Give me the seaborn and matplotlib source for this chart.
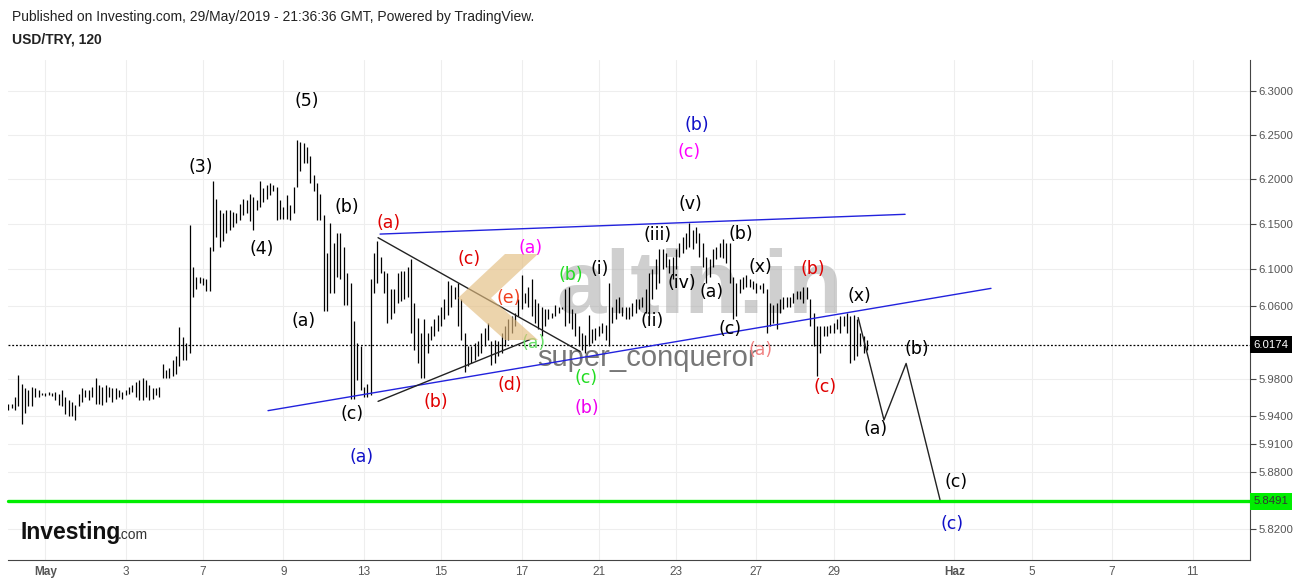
import numpy as np
import pandas as pd
import matplotlib
matplotlib.use("Agg")
import matplotlib.pyplot as plt
import matplotlib.transforms as mtransforms
from matplotlib.patches import Polygon
from matplotlib.ticker import FixedLocator, FixedFormatter, NullLocator, NullFormatter
import seaborn as sns

# ---------------- data (USD/TRY, 120 min bars) ----------------
highs = [
    5.953, 5.953, 5.961, 5.984, 5.975, 5.970, 5.968, 5.972, 5.970, 5.968,
    5.965, 5.965, 5.966, 5.965, 5.966, 5.964, 5.968, 5.961, 5.957, 5.955,
    5.952, 5.964, 5.970, 5.968, 5.968, 5.972, 5.981, 5.974, 5.972, 5.974,
    5.972, 5.970, 5.970, 5.968, 5.966, 5.968, 5.972, 5.974, 5.977, 5.979,
    5.981, 5.979, 5.974, 5.970, 5.970, 5.972, 5.996, 5.990, 5.992, 6.001,
    6.005, 6.037, 6.026, 6.019, 6.149, 6.103, 6.092, 6.092, 6.090, 6.089,
    6.125, 6.198, 6.178, 6.166, 6.162, 6.166, 6.166, 6.164, 6.162, 6.173,
    6.178, 6.177, 6.184, 6.180, 6.177, 6.198, 6.190, 6.194, 6.196, 6.194,
    6.192, 6.177, 6.169, 6.182, 6.171, 6.192, 6.244, 6.242, 6.241, 6.237,
    6.226, 6.205, 6.196, 6.184, 6.160, 6.118, 6.151, 6.129, 6.140, 6.140,
    6.125, 6.096, 6.085, 6.043, 6.019, 6.016, 5.972, 5.975, 6.089, 6.118,
    6.131, 6.114, 6.098, 6.096, 6.078, 6.078, 6.096, 6.098, 6.098, 6.103,
    6.111, 6.063, 6.047, 6.030, 6.045, 6.030, 6.038, 6.045, 6.050, 6.059,
    6.067, 6.087, 6.083, 6.080, 6.085, 6.067, 6.030, 6.016, 6.016, 6.019,
    6.021, 6.030, 6.036, 6.041, 6.021, 6.023, 6.021, 6.030, 6.038, 6.045,
    6.049, 6.052, 6.067, 6.094, 6.074, 6.081, 6.089, 6.067, 6.063, 6.059,
    6.056, 6.056, 6.052, 6.061, 6.059, 6.059, 6.078, 6.081, 6.056, 6.052,
    6.038, 6.030, 6.028, 6.050, 6.034, 6.036, 6.038, 6.041, 6.039, 6.085,
    6.059, 6.067, 6.070, 6.059, 6.059, 6.059, 6.063, 6.067, 6.067, 6.070,
    6.078, 6.096, 6.100, 6.111, 6.122, 6.122, 6.118, 6.111, 6.114, 6.122,
    6.129, 6.136, 6.140, 6.151, 6.144, 6.147, 6.140, 6.129, 6.114, 6.111,
    6.122, 6.125, 6.129, 6.133, 6.129, 6.129, 6.092, 6.085, 6.089, 6.092,
    6.094, 6.089, 6.087, 6.085, 6.083, 6.085, 6.078, 6.063, 6.061, 6.063,
    6.067, 6.070, 6.070, 6.070, 6.074, 6.076, 6.076, 6.081, 6.080, 6.067,
    6.052, 6.038, 6.038, 6.038, 6.038, 6.039, 6.041, 6.045, 6.049, 6.049,
    6.052, 6.049, 6.050, 6.045, 6.030, 6.027, 6.023,
]
lows = [
    5.947, 5.949, 5.947, 5.951, 5.932, 5.943, 5.951, 5.951, 5.961, 5.961,
    5.963, 5.962, 5.963, 5.962, 5.957, 5.952, 5.951, 5.942, 5.940, 5.940,
    5.936, 5.951, 5.955, 5.961, 5.957, 5.961, 5.953, 5.953, 5.952, 5.955,
    5.961, 5.955, 5.959, 5.961, 5.959, 5.963, 5.964, 5.966, 5.961, 5.957,
    5.957, 5.961, 5.957, 5.959, 5.963, 5.961, 5.981, 5.981, 5.981, 5.983,
    5.986, 5.994, 6.001, 6.001, 6.008, 6.070, 6.078, 6.085, 6.083, 6.076,
    6.076, 6.120, 6.136, 6.125, 6.131, 6.140, 6.144, 6.147, 6.151, 6.155,
    6.160, 6.162, 6.153, 6.144, 6.166, 6.169, 6.175, 6.178, 6.182, 6.187,
    6.155, 6.156, 6.156, 6.156, 6.155, 6.162, 6.192, 6.209, 6.219, 6.219,
    6.196, 6.187, 6.155, 6.155, 6.054, 6.054, 6.074, 6.074, 6.092, 6.089,
    6.061, 6.061, 5.959, 5.959, 5.979, 5.968, 5.961, 5.961, 5.963, 6.074,
    6.085, 6.096, 6.074, 6.041, 6.045, 6.052, 6.063, 6.065, 6.067, 6.070,
    6.030, 6.012, 5.997, 5.981, 5.981, 6.008, 6.023, 6.027, 6.032, 6.038,
    6.045, 6.050, 6.059, 6.067, 6.038, 6.023, 5.988, 5.994, 5.997, 6.001,
    6.005, 6.008, 6.016, 6.023, 5.995, 5.997, 6.005, 6.008, 6.016, 6.023,
    6.030, 6.038, 6.049, 6.056, 6.063, 6.059, 6.049, 6.041, 6.034, 6.027,
    6.038, 6.045, 6.047, 6.049, 6.052, 6.056, 6.038, 6.041, 6.034, 6.027,
    6.016, 6.012, 6.008, 6.016, 6.019, 6.023, 6.027, 6.030, 6.023, 6.016,
    6.041, 6.045, 6.052, 6.049, 6.045, 6.045, 6.049, 6.052, 6.056, 6.059,
    6.052, 6.045, 6.067, 6.078, 6.085, 6.100, 6.103, 6.096, 6.089, 6.100,
    6.114, 6.118, 6.122, 6.125, 6.123, 6.129, 6.114, 6.103, 6.085, 6.092,
    6.103, 6.111, 6.114, 6.113, 6.107, 6.085, 6.045, 6.049, 6.074, 6.078,
    6.081, 6.081, 6.078, 6.074, 6.078, 6.074, 6.030, 6.038, 6.041, 6.034,
    6.052, 6.056, 6.059, 6.059, 6.063, 6.067, 6.067, 6.063, 6.067, 6.038,
    6.016, 5.983, 6.008, 6.027, 6.027, 6.030, 6.030, 6.034, 6.030, 6.038,
    6.030, 5.997, 6.001, 6.005, 6.016, 6.008, 6.012,
]
last_price = 6.0174
support_level = 5.8491

ytick_values = [5.82, 5.88, 5.91, 5.94, 5.98, 6.06, 6.10, 6.15, 6.20, 6.25, 6.30]
# bar index at which each labelled day begins
xtick_bars = [11, 35, 58, 82, 106, 129, 153, 176, 199, 223, 246, 282, 305, 329, 353]
xtick_labels = ["May", "3", "7", "9", "13", "15", "17", "21", "23", "27", "29",
                "Haz", "5", "7", "11"]

# Elliott wave labels: (text, bar index, price, colour)
wave_text = ["(3)", "(4)", "(5)", "(b)", "(a)", "(c)", "(a)",
             "(a)", "(b)", "(c)", "(d)", "(e)",
             "(a)", "(a)", "(b)", "(i)", "(c)", "(b)",
             "(ii)", "(iii)", "(iv)", "(v)", "(c)", "(b)",
             "(a)", "(b)", "(c)", "(x)", "(a)",
             "(b)", "(c)", "(x)", "(b)", "(a)", "(c)", "(c)"]
wave_bar = [57.4, 75.6, 89.0, 100.9, 88.1, 102.4, 105.4,
            113.2, 127.5, 137.3, 149.5, 149.2,
            155.8, 156.7, 167.7, 176.4, 172.2, 172.5,
            191.9, 193.4, 200.8, 203.2, 202.9, 205.3,
            209.5, 218.4, 215.1, 224.3, 224.3,
            239.9, 243.4, 253.6, 270.8, 258.6, 282.5, 281.3]
wave_price = [6.214, 6.122, 6.289, 6.169, 6.043, 5.942, 5.896,
              6.151, 5.955, 6.111, 5.974, 6.068,
              6.124, 6.019, 6.094, 6.100, 5.981, 5.949,
              6.043, 6.138, 6.085, 6.172, 6.231, 6.261,
              6.075, 6.139, 6.035, 6.103, 6.012,
              6.100, 5.971, 6.071, 6.013, 5.926, 5.870, 5.825]
wave_color = ["black", "black", "black", "black", "black", "black", "#1010c8",
              "#e00000", "#e00000", "#e00000", "#e00000", "#f04020",
              "#ff00ff", "#66e066", "#22dd22", "black", "#22dd22", "#ee00ee",
              "black", "black", "black", "black", "#ff00ff", "#1010c8",
              "black", "black", "black", "black", "#f08080",
              "#e00000", "#e00000", "black", "black", "black", "black", "#1010c8"]

# trend lines (bar index, price)
upper_blue_x = [110.8, 267.3]
upper_blue_y = [6.139, 6.161]
lower_blue_x = [77.4, 292.9]
lower_blue_y = [5.946, 6.079]
tri_upper_x = [110.2, 170.4]
tri_upper_y = [6.135, 6.010]
tri_lower_x = [110.2, 155.5]
tri_lower_y = [5.956, 6.023]
forecast_x = [253.3, 261.0, 267.6, 277.7]
forecast_y = [6.047, 5.936, 5.997, 5.851]

# ---------------- figure ----------------
sns.set_style("white")
plt.rcParams["font.family"] = ["DejaVu Sans"]
ARIAL = ["Liberation Sans", "DejaVu Sans"]

W, H = 1299, 580
fig = plt.figure(figsize=(W / 100, H / 100), dpi=100)
ax = fig.add_axes([8 / W, 20 / H, 1242 / W, 500 / H])

bars = pd.DataFrame({"bar": np.arange(len(highs)), "high": highs, "low": lows})
ax.vlines(bars["bar"], bars["low"], bars["high"], color="black", lw=0.9, zorder=3)

ax.set_yscale("log")
ax.set_ylim(5.7875, 6.3354)
ax.set_xlim(-0.1, 370.1)

# grid
for v in ytick_values:
    ax.axhline(v, color="#eeeeee", lw=0.8, zorder=0)
for b in xtick_bars:
    ax.axvline(b, color="#eeeeee", lw=0.8, zorder=0)

# watermark (altin.in logo + author)
def fig_xy(px, py):
    return (px / W, 1 - py / H)

def ax_xy(px, py):
    return ax.transAxes.inverted().transform(fig.transFigure.transform(fig_xy(px, py)))

chevron_px = [(458, 298), (505, 254), (538, 254), (491, 298), (538, 340), (505, 340)]
fig.patches.append(Polygon([fig_xy(*p) for p in chevron_px], closed=True,
                           transform=fig.transFigure, facecolor="#e3bd80",
                           edgecolor="none", alpha=0.65, zorder=0.5))
ax.text(*ax_xy(700, 290), "altin.in", transform=ax.transAxes, fontsize=64,
        family=ARIAL, fontweight="bold", color="#a8a8a8", alpha=0.55,
        ha="center", va="center", zorder=1)
ax.text(*ax_xy(648, 358), "super_conqueror", transform=ax.transAxes,
        fontsize=21, family=ARIAL, color="#555555", alpha=0.8, ha="center",
        va="center", zorder=1)

# horizontal levels
ax.axhline(last_price, color="black", lw=0.9, ls=(0, (1.5, 1.5)), zorder=2)
ax.axhline(support_level, color="#00ee00", lw=2.4, zorder=2, clip_on=False)

# trend lines via seaborn
def seg(xs, ys, color, lw=1.0):
    sns.lineplot(x=xs, y=ys, ax=ax, color=color, lw=lw, sort=False,
                 estimator=None, legend=False, zorder=4)

seg(upper_blue_x, upper_blue_y, "#2222dd")
seg(lower_blue_x, lower_blue_y, "#2222dd")
seg(tri_upper_x, tri_upper_y, "#222222")
seg(tri_lower_x, tri_lower_y, "#222222")
seg(forecast_x, forecast_y, "#222222")

# wave labels
for t, xb, yp, c in zip(wave_text, wave_bar, wave_price, wave_color):
    ax.text(xb, yp, t, color=c, fontsize=12.5, ha="center", va="center", zorder=5)

# axes styling
for s in ["top", "left"]:
    ax.spines[s].set_visible(False)
ax.spines["right"].set_color("#444444")
ax.spines["bottom"].set_color("#444444")
ax.yaxis.tick_right()
ax.yaxis.set_major_locator(FixedLocator(ytick_values))
ax.yaxis.set_major_formatter(FixedFormatter([f"{v:.4f}" for v in ytick_values]))
ax.yaxis.set_minor_locator(NullLocator())
ax.yaxis.set_minor_formatter(NullFormatter())
ax.tick_params(axis="y", which="major", length=4, width=0.8, colors="#444444",
               labelsize=8.2, labelcolor="#555555", pad=2)
ax.xaxis.set_major_locator(FixedLocator(xtick_bars))
ax.xaxis.set_major_formatter(FixedFormatter(xtick_labels))
ax.tick_params(axis="x", length=3, width=0.8, colors="#444444", labelsize=8.5,
               labelcolor="#555555", pad=1)
for lab in ax.get_xticklabels() + ax.get_yticklabels():
    lab.set_family(ARIAL)
for lab in ax.get_xticklabels():
    if lab.get_text() in ("May", "Haz"):
        lab.set_fontweight("bold")

trans = mtransforms.blended_transform_factory(ax.transAxes, ax.transData)
ax.text(1.003, last_price, f"{last_price:.4f}", transform=trans, color="white",
        fontsize=8.2, family=ARIAL, ha="left", va="center",
        bbox=dict(facecolor="black", edgecolor="none", pad=2.5))
ax.text(1.003, support_level, f"{support_level:.4f}", transform=trans,
        color="#333333", fontsize=8.2, family=ARIAL, ha="left", va="center",
        bbox=dict(facecolor="#00ee00", edgecolor="none", pad=2.5))

# header texts
fig.text(12 / W, 1 - 17 / H,
         "Published on Investing.com, 29/May/2019 - 21:36:36 GMT, Powered by TradingView.",
         fontsize=10, family=ARIAL, color="#222222", va="center", ha="left")
fig.text(12 / W, 1 - 40 / H, "USD/TRY, 120", fontsize=10, family=ARIAL,
         fontweight="bold", color="#222222", va="center", ha="left")

# Investing.com logo
fig.text(20 / W, 1 - 533 / H, "Investing", fontsize=16.5, fontweight="bold",
         family=ARIAL, color="#111111", va="center", ha="left")
fig.text(118 / W, 1 - 535 / H, ".com", fontsize=10, family=ARIAL, color="#333333",
         va="center", ha="left")

fig.savefig("out.png", dpi=100)
